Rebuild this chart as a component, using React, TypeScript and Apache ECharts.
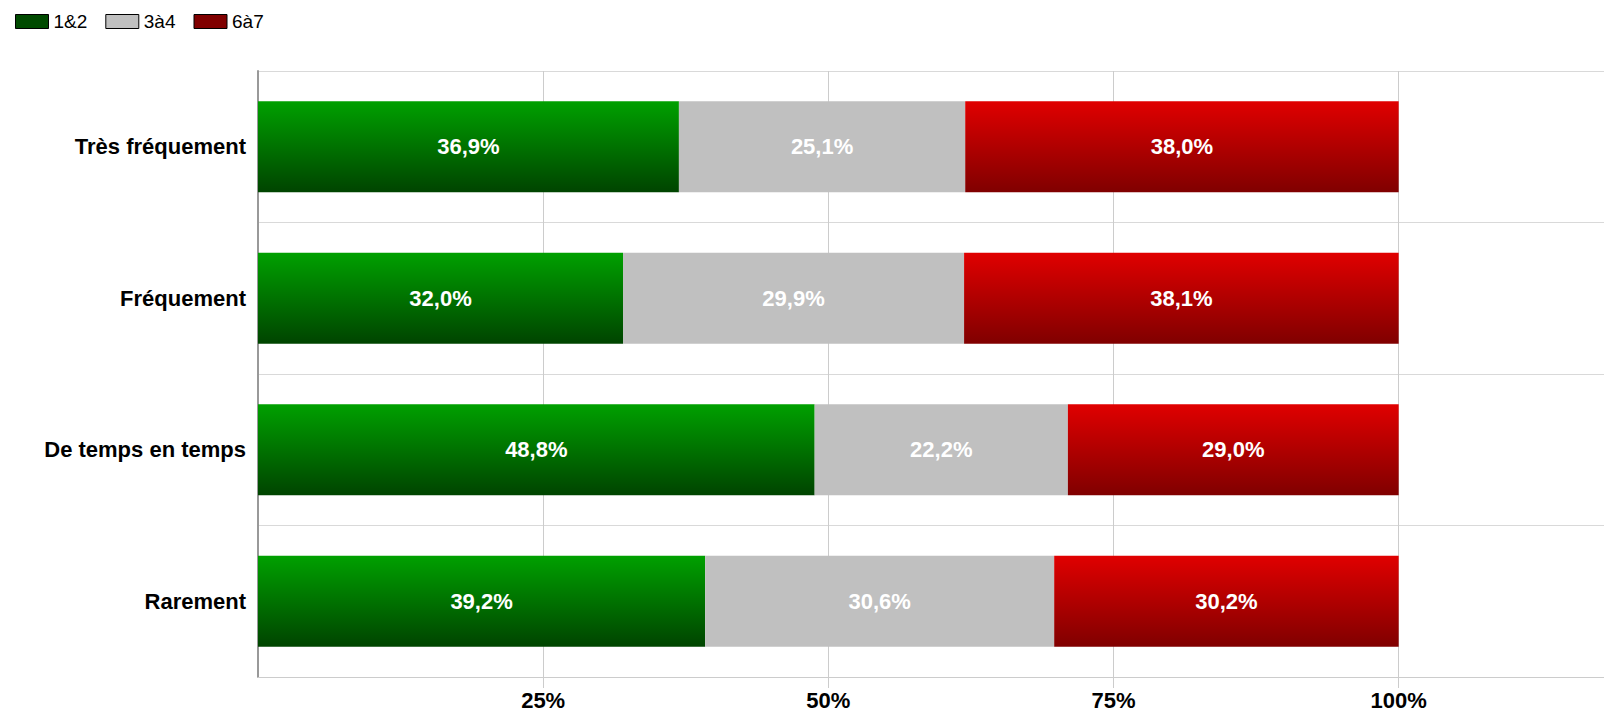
import React, { useEffect, useRef } from "react";
import * as echarts from "echarts";

const categories = ["Très fréquement", "Fréquement", "De temps en temps", "Rarement"];
const seriesNames = ["1&2", "3à4", "6à7"];
const values12 = [36.9, 32.0, 48.8, 39.2];
const values34 = [25.1, 29.9, 22.2, 30.6];
const values67 = [38.0, 38.1, 29.0, 30.2];
const tickValues = [25, 50, 75, 100];

const FONT = "'Liberation Sans', Arial, sans-serif";

export default function App() {
  const ref = useRef<HTMLDivElement>(null);
  useEffect(() => {
    if (!ref.current) return;
    const chart = echarts.init(ref.current, null, { renderer: "svg" });
    const grad = (top: string, bottom: string) =>
      new echarts.graphic.LinearGradient(0, 0, 0, 1, [
        { offset: 0, color: top },
        { offset: 1, color: bottom },
      ]);
    const label = {
      show: true,
      position: "inside",
      color: "#fff",
      fontSize: 22,
      fontWeight: "bold",
      fontFamily: FONT,
      formatter: (p: any) => p.value.toFixed(1).replace(".", ",") + "%",
    };
    chart.setOption({
      animation: false,
      legend: {
        left: 10,
        top: 7,
        padding: 5,
        icon: "rect",
        itemWidth: 33,
        itemHeight: 14,
        itemGap: 18,
        textStyle: { fontSize: 19, color: "#000", fontFamily: FONT },
        data: [
          { name: seriesNames[0], itemStyle: { color: "#004a00", borderColor: "#000", borderWidth: 1 } },
          { name: seriesNames[1], itemStyle: { color: "#c0c0c0", borderColor: "#000", borderWidth: 1 } },
          { name: seriesNames[2], itemStyle: { color: "#800000", borderColor: "#000", borderWidth: 1 } },
        ],
      },
      grid: { left: 258, right: 0, top: 71, bottom: 38, containLabel: false },
      xAxis: {
        type: "value",
        min: 0,
        max: 118,
        interval: 25,
        axisLine: { show: true, lineStyle: { color: "#cccccc", width: 1 } },
        axisTick: { show: true, length: 11, lineStyle: { color: "#cccccc" }, customValues: tickValues },
        axisLabel: {
          customValues: tickValues,
          formatter: (v: number) => v + "%",
          fontSize: 22,
          fontWeight: "bold",
          color: "#000",
          fontFamily: FONT,
          margin: 12,
        },
        splitLine: { show: true, lineStyle: { color: "#cccccc", width: 1 } },
      },
      yAxis: {
        type: "category",
        inverse: true,
        data: categories,
        axisLine: { show: true, lineStyle: { color: "#999999", width: 2 } },
        axisTick: { show: false },
        axisLabel: {
          fontSize: 22,
          fontWeight: "bold",
          color: "#000",
          fontFamily: FONT,
          margin: 12,
        },
        splitLine: { show: true, lineStyle: { color: "#d9d9d9", width: 1 } },
      },
      series: [
        {
          name: seriesNames[0],
          type: "bar",
          stack: "t",
          barWidth: "60%",
          data: values12,
          itemStyle: { color: grad("#00a000", "#004400") },
          label,
        },
        {
          name: seriesNames[1],
          type: "bar",
          stack: "t",
          barWidth: "60%",
          data: values34,
          itemStyle: { color: "#c0c0c0" },
          label,
        },
        {
          name: seriesNames[2],
          type: "bar",
          stack: "t",
          barWidth: "60%",
          data: values67,
          itemStyle: { color: grad("#e00000", "#800000") },
          label,
        },
      ],
    });
    return () => chart.dispose();
  }, []);
  return (
    <div
      ref={ref}
      style={{ position: "fixed", left: 0, top: 0, width: 1604, height: 715, background: "#fff" }}
    />
  );
}
